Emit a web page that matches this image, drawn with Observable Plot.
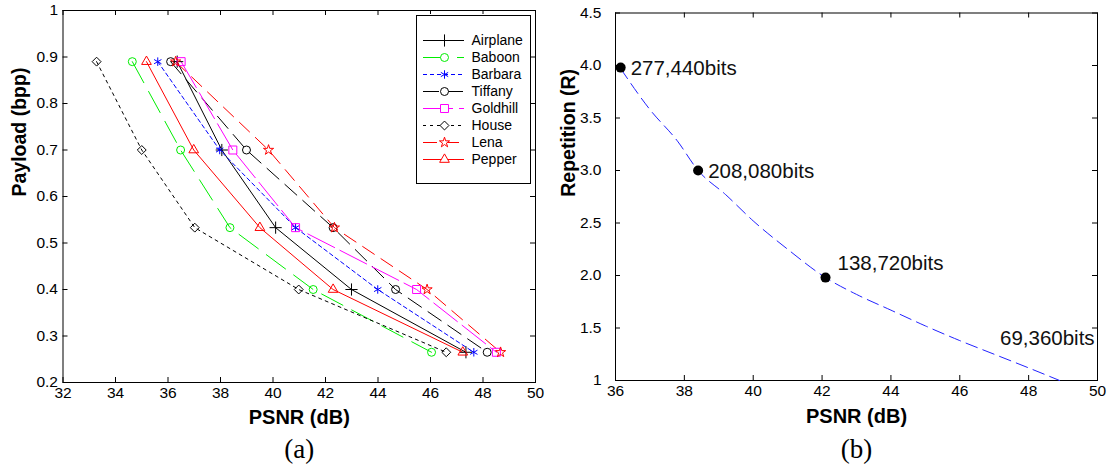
<!DOCTYPE html>
<html><head><meta charset="utf-8">
<script src="https://cdn.jsdelivr.net/npm/d3@7"></script>
<script src="https://cdn.jsdelivr.net/npm/@observablehq/plot@0.6"></script>
<style>
body{margin:0;background:#fff;}
#wrap{position:relative;width:1109px;height:465px;overflow:hidden;background:#fff;}
#wrap > *{position:absolute;}
</style></head><body><div id="wrap"></div>
<script>
// ---------- Data (a) ----------
const images = ["Airplane","Baboon","Barbara","Tiffany","Goldhill","House","Lena","Pepper"];
const payload = [0.89, 0.70, 0.533, 0.40, 0.265];
const psnrAirplane = [36.35, 38.05, 40.10, 42.99, 47.35];
const psnrBaboon   = [34.64, 36.48, 38.36, 41.53, 46.04];
const psnrBarbara  = [35.61, 37.97, 40.86, 43.99, 47.65];
const psnrTiffany  = [36.10, 38.99, 42.29, 44.67, 48.16];
const psnrGoldhill = [36.50, 38.47, 40.86, 45.47, 48.51];
const psnrHouse    = [33.28, 35.00, 37.02, 40.98, 46.60];
const psnrLena     = [36.29, 39.83, 42.34, 45.87, 48.67];
const psnrPepper   = [35.18, 36.98, 39.50, 42.29, 47.23];
const psnrSeries = [psnrAirplane, psnrBaboon, psnrBarbara, psnrTiffany, psnrGoldhill, psnrHouse, psnrLena, psnrPepper];

const xTicksA = [32,34,36,38,40,42,44,46,48,50];
const xLabelsA = ["32","34","36","38","40","42","44","46","48","50"];
const yTicksA = [0.2,0.3,0.4,0.5,0.6,0.7,0.8,0.9,1];
const yLabelsA = ["0.2","0.3","0.4","0.5","0.6","0.7","0.8","0.9","1"];

// ---------- Data (b) ----------
const curvePsnr = [36.15, 37.0, 37.8, 38.4, 39.2, 40.0, 41.0, 42.1, 43.0, 44.0, 45.0, 46.0, 47.0, 48.0, 48.9];
const curveR    = [3.97, 3.58, 3.28, 3.0, 2.77, 2.52, 2.25, 1.98, 1.82, 1.67, 1.52, 1.38, 1.25, 1.12, 1.0];
const pointPsnr = [36.15, 38.4, 42.1, 48.9];
const pointR    = [3.98, 3.0, 1.98, 1.0];
const pointLabels = ["277,440bits","208,080bits","138,720bits","69,360bits"];

const xTicksB = [36,38,40,42,44,46,48,50];
const xLabelsB = ["36","38","40","42","44","46","48","50"];
const yTicksB = [1,1.5,2,2.5,3,3.5,4,4.5];
const yLabelsB = ["1","1.5","2.0","2.5","3.0","3.5","4.0","4.5"];

// ---------- Styles ----------
const seriesColor = ["#000000","#00ee00","#0000ff","#000000","#ff00ff","#000000","#ff0000","#ff0000"];
const seriesDash  = [null, "24,10", "4,3", "16,8", "30,6", "3,4", "14,8", null];
const seriesSymbol = ["plus","circle","asterisk","circle","square","diamond2","star","triangle"];
const symbolR = {plus: 4, circle: 4, asterisk: 4, square: 4.5, diamond2: 4, star: 3.2, triangle: 3.6};

const SANS = "'Liberation Sans', Arial, Helvetica, sans-serif";
const SERIF = "'Liberation Serif', 'Times New Roman', serif";
const wrap = document.getElementById("wrap");

function fmt(ticks, labels){ return d => labels[ticks.indexOf(d)]; }

// ---------- Chart (a) ----------
const A = {width: 545, height: 465, ml: 62.5, mr: 10, mt: 10, mb: 83};
const aW = A.width - A.ml - A.mr, aH = A.height - A.mt - A.mb;
const seriesData = psnrSeries.map(arr => arr.map((v, j) => ({psnr: v, payload: payload[j]})));

const chartA = Plot.plot({
  width: A.width, height: A.height,
  marginLeft: A.ml, marginRight: A.mr, marginTop: A.mt, marginBottom: A.mb,
  x: {domain: [32, 50]},
  y: {domain: [0.2, 1]},
  style: {fontFamily: SANS, fontSize: "15.5px", background: "white", color: "black"},
  marks: [
    Plot.frame({stroke: "black"}),
    Plot.axisX({ticks: xTicksA, tickFormat: fmt(xTicksA, xLabelsA), tickSize: 0, tickPadding: 4, label: null, fontSize: 15.5}),
    Plot.axisY({ticks: yTicksA, tickFormat: fmt(yTicksA, yLabelsA), tickSize: 0, tickPadding: 5, label: null, fontSize: 15.5}),
    Plot.tickX(xTicksA, {x: d => d, insetTop: aH - 5, stroke: "black"}),
    Plot.tickX(xTicksA, {x: d => d, insetBottom: aH - 5, stroke: "black"}),
    Plot.tickY(yTicksA, {y: d => d, insetRight: aW - 5, stroke: "black"}),
    Plot.tickY(yTicksA, {y: d => d, insetLeft: aW - 5, stroke: "black"}),
    ...seriesData.map((data, i) => Plot.line(data, {x: "psnr", y: "payload", stroke: seriesColor[i], strokeDasharray: seriesDash[i], strokeWidth: 1})),
    ...seriesData.map((data, i) => Plot.dot(data, {x: "psnr", y: "payload", symbol: seriesSymbol[i], stroke: seriesColor[i], fill: "none", r: symbolR[seriesSymbol[i]], strokeWidth: 1})),
    Plot.text(["Payload (bpp)"], {text: d => d, frameAnchor: "left", dx: -43.5, rotate: -90, fontWeight: "bold", fontSize: 19.5}),
    Plot.text(["PSNR (dB)"], {text: d => d, frameAnchor: "bottom", lineAnchor: "middle", dy: 35, fontWeight: "bold", fontSize: 20}),
    Plot.text(["(a)"], {text: d => d, frameAnchor: "bottom", lineAnchor: "middle", dy: 67, fontFamily: SERIF, fontSize: 27})
  ]
});
chartA.style.left = "0px"; chartA.style.top = "0px";
wrap.appendChild(chartA);

// ---------- Legend (a) ----------
const legend = Plot.plot({
  width: 116, height: 170, margin: 1,
  x: {domain: [0, 1], axis: null},
  y: {type: "point", domain: images, range: [14, 157], axis: null},
  style: {fontFamily: SANS, fontSize: "14px", background: "white", color: "black", overflow: "visible"},
  marks: [
    Plot.frame({stroke: "black", fill: "white"}),
    ...images.map((name, i) => Plot.ruleY([name], {y: d => d, stroke: seriesColor[i], strokeDasharray: seriesDash[i], insetLeft: 7, insetRight: 66, strokeWidth: 1})),
    ...images.map((name, i) => Plot.dot([name], {y: d => d, frameAnchor: "left", dx: 28, symbol: seriesSymbol[i], stroke: seriesColor[i], fill: "white", r: symbolR[seriesSymbol[i]], strokeWidth: 1})),
    Plot.text(images, {y: d => d, text: d => d, frameAnchor: "left", dx: 55, textAnchor: "start", fontSize: 14})
  ]
});
legend.style.left = "415px"; legend.style.top = "14px";
wrap.appendChild(legend);

// ---------- Chart (b) ----------
const B = {width: 564, height: 465, ml: 70, mr: 12, mt: 12.5, mb: 85};
const bW = B.width - B.ml - B.mr, bH = B.height - B.mt - B.mb;
const curve = curvePsnr.map((v, i) => ({psnr: v, r: curveR[i]}));
const points = pointPsnr.map((v, i) => ({psnr: v, r: pointR[i], label: pointLabels[i]}));

const chartB = Plot.plot({
  width: B.width, height: B.height,
  marginLeft: B.ml, marginRight: B.mr, marginTop: B.mt, marginBottom: B.mb,
  x: {domain: [36, 50]},
  y: {domain: [1, 4.5]},
  style: {fontFamily: SANS, fontSize: "15.5px", background: "white", color: "black"},
  marks: [
    Plot.frame({stroke: "black"}),
    Plot.axisX({ticks: xTicksB, tickFormat: fmt(xTicksB, xLabelsB), tickSize: 0, tickPadding: 4, label: null, fontSize: 15.5}),
    Plot.axisY({ticks: yTicksB, tickFormat: fmt(yTicksB, yLabelsB), tickSize: 0, tickPadding: 14, label: null, fontSize: 15.5}),
    Plot.tickX(xTicksB, {x: d => d, insetTop: bH - 5, stroke: "black"}),
    Plot.tickX(xTicksB, {x: d => d, insetBottom: bH - 5, stroke: "black"}),
    Plot.tickY(yTicksB, {y: d => d, insetRight: bW - 5, stroke: "black"}),
    Plot.tickY(yTicksB, {y: d => d, insetLeft: bW - 5, stroke: "black"}),
    Plot.line(curve, {x: "psnr", y: "r", stroke: "#2222ff", strokeDasharray: "12,6", strokeWidth: 1, curve: "monotone-x"}),
    Plot.dot(points, {x: "psnr", y: "r", fill: "black", r: 5, filter: (d, i) => i < 3}),
    Plot.text(points, {x: "psnr", y: "r", text: "label", filter: (d, i) => i < 2, textAnchor: "start", dx: 10, dy: 1, fontSize: 20.5, fill: "#111"}),
    Plot.text(points, {x: "psnr", y: "r", text: "label", filter: (d, i) => i === 2, textAnchor: "start", dx: 12, dy: -14, fontSize: 20.5, fill: "#111"}),
    Plot.text(points, {x: "psnr", y: "r", text: "label", filter: (d, i) => i === 3, textAnchor: "end", dx: 35, dy: -42, fontSize: 20.5, fill: "#111"}),
    Plot.text(["Repetition (R)"], {text: d => d, frameAnchor: "left", dx: -47, rotate: -90, fontWeight: "bold", fontSize: 19.5}),
    Plot.text(["PSNR (dB)"], {text: d => d, frameAnchor: "bottom", lineAnchor: "middle", dy: 36, fontWeight: "bold", fontSize: 20}),
    Plot.text(["(b)"], {text: d => d, frameAnchor: "bottom", lineAnchor: "middle", dy: 69, fontFamily: SERIF, fontSize: 27})
  ]
});
chartB.style.left = "545px"; chartB.style.top = "0px";
wrap.appendChild(chartB);
</script>
</body></html>
